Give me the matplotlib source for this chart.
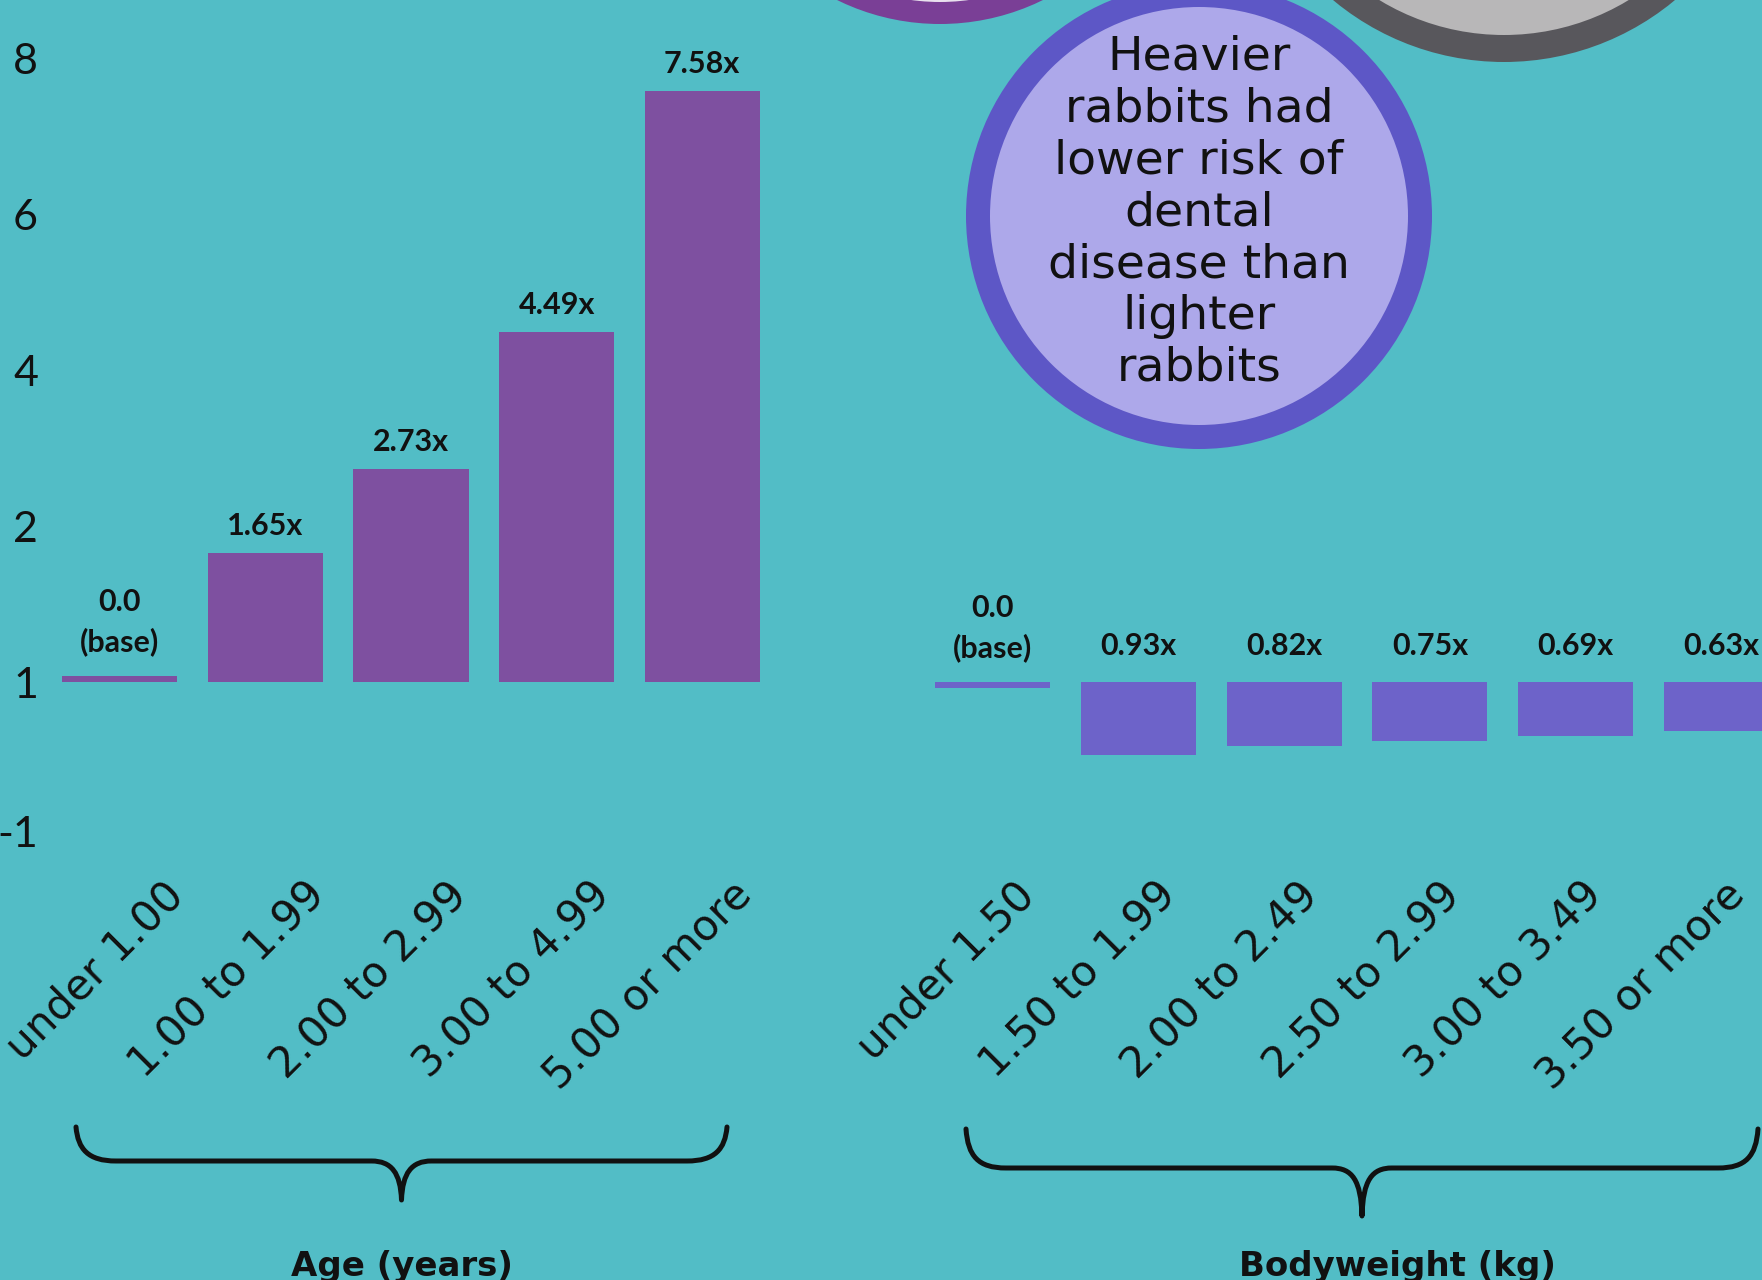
import numpy as np
import matplotlib.pyplot as plt
from matplotlib.patches import Circle, PathPatch
from matplotlib.path import Path

age_labels = ['under 1.00', '1.00 to 1.99', '2.00 to 2.99', '3.00 to 4.99', '5.00 or more']
age_rr = [0.0, 1.65, 2.73, 4.49, 7.58]

weight_labels = ['under 1.50', '1.50 to 1.99', '2.00 to 2.49', '2.50 to 2.99',
                 '3.00 to 3.49', '3.50 or more']
weight_rr = [0.0, 0.93, 0.82, 0.75, 0.69, 0.63]

ytick_pos = [8, 6, 4, 2, 0, -1.92]
ytick_lab = ['8', '6', '4', '2', '1', '-1']

bubble_lines = ['Heavier', 'rabbits had', 'lower risk of', 'dental',
                'disease than', 'lighter', 'rabbits']

# Couleurs
TEAL = '#52bdc6'
AGE_COL = '#7e50a0'
WEIGHT_COL = '#6d63c9'
INK = '#111111'

W, H, DPI = 1762, 1280, 100
PT = 72 / DPI            # points par pixel
Y0, SCALE = 682, 78      # position du zéro (px) et px par unité
BASE_H = 0.08            # épaisseur du trait "base"

fig = plt.figure(figsize=(W / DPI, H / DPI), dpi=DPI, facecolor=TEAL)

# Fond : cercles et accolades en coordonnées pixel
bg = fig.add_axes([0, 0, 1, 1], zorder=0)
bg.set_xlim(0, W)
bg.set_ylim(H, 0)
bg.axis('off')

for (cx, cy, r_out, r_in, ring, fill) in [(940, -209, 233, 211, '#7a3f96', '#e9e1ee'),
                                          (1504, -205, 267, 240, '#58575c', '#b8b7b8'),
                                          (1199, 216, 233, 209, '#5d57c6', '#ada8ea')]:
    bg.add_patch(Circle((cx, cy), r_out, facecolor=ring, edgecolor='none'))
    bg.add_patch(Circle((cx, cy), r_in, facecolor=fill, edgecolor='none'))

for k, line in enumerate(bubble_lines):
    bg.text(1199, 70 + 51.8 * k, line, ha='center', va='baseline',
            fontsize=34, color=INK, family='DejaVu Sans')


def brace(ax, x0, x1, y_end, y_mid, y_tip):
    xc = (x0 + x1) / 2
    verts = [(x0, y_end), (x0 + 2, y_mid - 12), (x0 + 12, y_mid), (x0 + 40, y_mid),
             (xc - 30, y_mid),
             (xc - 10, y_mid), (xc - 1, y_mid + 12), (xc, y_tip),
             (xc + 1, y_mid + 12), (xc + 10, y_mid), (xc + 30, y_mid),
             (x1 - 40, y_mid),
             (x1 - 12, y_mid), (x1 - 2, y_mid - 12), (x1, y_end)]
    codes = [Path.MOVETO, Path.CURVE4, Path.CURVE4, Path.CURVE4, Path.LINETO,
             Path.CURVE4, Path.CURVE4, Path.CURVE4, Path.CURVE4, Path.CURVE4, Path.CURVE4,
             Path.LINETO, Path.CURVE4, Path.CURVE4, Path.CURVE4]
    ax.add_patch(PathPatch(Path(verts, codes), facecolor='none', edgecolor=INK,
                           lw=3.6, capstyle='round', joinstyle='round'))


brace(bg, 76, 727, 1127, 1161, 1200)
brace(bg, 966, 1758, 1129, 1168, 1216)

bg.text(402, 1276, 'Age (years)', ha='center', va='baseline', fontsize=24.5,
        fontweight='bold', color=INK, family='DejaVu Sans')
bg.text(1397, 1276, 'Bodyweight (kg)', ha='center', va='baseline', fontsize=24.5,
        fontweight='bold', color=INK, family='DejaVu Sans')

ylim = ((Y0 - H) / SCALE, Y0 / SCALE)


def panel(rect, labels, rr, sign, color, lab_shift, lab_pitch, lab_dy):
    ax = fig.add_axes(rect, zorder=1)
    ax.set_facecolor('none')
    for s in ax.spines.values():
        s.set_visible(False)
    n = len(labels)
    x = np.arange(n)
    heights = [sign * BASE_H if v == 0 else sign * v for v in rr]
    ax.bar(x, heights, width=0.79, color=color)
    ax.set_xlim(-0.5, n - 0.5)
    ax.set_ylim(*ylim)
    ax.set_xticks([])
    for i, v in enumerate(rr):
        top = max(heights[i], 0)
        if v == 0:
            ax.annotate('0.0\n(base)', (x[i], top), xytext=(0, 20 * PT),
                        textcoords='offset points', ha='center', va='bottom',
                        fontsize=22, fontweight='bold', color=INK, family='Lato',
                        linespacing=1.45)
        else:
            ax.annotate(f'{v:.2f}x', (x[i], top), xytext=(0, lab_dy * PT),
                        textcoords='offset points', ha='center', va='center',
                        fontsize=22, fontweight='bold', color=INK, family='Lato')
    for i, lab in enumerate(labels):
        ax.text(lab_shift + lab_pitch * i, (Y0 - 874) / SCALE, lab, rotation=45,
                rotation_mode='anchor', ha='right', va='top', fontsize=30.5,
                color=INK, family='DejaVu Sans')
    return ax


ax1 = panel([47 / W, 0, 728 / W, 1], age_labels, age_rr, 1, AGE_COL, 0.29, 0.977, 27)
ax1.set_yticks(ytick_pos)
ax1.set_yticklabels(ytick_lab, fontsize=31, family='Lato', color=INK)
ax1.tick_params(axis='y', length=0, pad=9 * PT)

ax2 = panel([920 / W, 0, 874 / W, 1], weight_labels, weight_rr, -1, WEIGHT_COL, 0.14, 0.975, 36)
ax2.set_yticks([])

fig.savefig('out.png', dpi=DPI, facecolor=TEAL)
